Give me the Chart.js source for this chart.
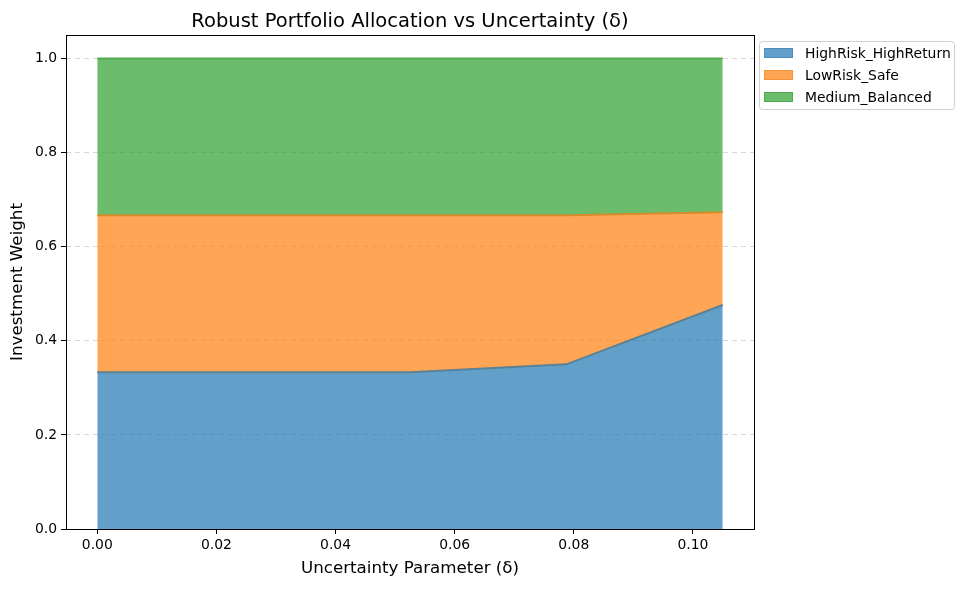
<!DOCTYPE html>
<html>
<head>
<meta charset="utf-8">
<script src="https://cdn.jsdelivr.net/npm/chart.js@4.4.0/dist/chart.umd.min.js"></script>
<style>
  html, body { margin: 0; padding: 0; background: #fff; }
  #wrap { width: 964px; height: 590px; }
</style>
</head>
<body>
<div id="wrap"><canvas id="chart" width="964" height="590"></canvas></div>
<script>
const deltas = [0, 0.02625, 0.0525, 0.07875, 0.105];
const seriesNames = ['HighRisk_HighReturn', 'LowRisk_Safe', 'Medium_Balanced'];
const highRisk = [0.333, 0.333, 0.333, 0.350, 0.476];
const lowRisk = [0.334, 0.334, 0.334, 0.317, 0.197];
const medium = [0.333, 0.333, 0.333, 0.333, 0.327];
const xTicks = [0, 0.02, 0.04, 0.06, 0.08, 0.10];
const yTicks = [0, 0.2, 0.4, 0.6, 0.8, 1.0];

const fills = ['rgba(31,119,180,0.7)', 'rgba(255,127,14,0.7)', 'rgba(44,160,44,0.7)'];
const edges = ['#5a8296', '#d68b2c', '#55aa52'];
const swatchEdges = ['#4a8fbf', '#f5923a', '#4daa4d'];

// running totals so each band sits on the one below it
const weights = [highRisk, lowRisk, medium];
let running = deltas.map(() => 0);
const datasets = weights.map((w, i) => {
    running = running.map((v, j) => v + w[j]);
    return {
        label: seriesNames[i],
        data: deltas.map((x, j) => ({ x, y: running[j] })),
        backgroundColor: fills[i],
        borderColor: edges[i],
        borderWidth: 2,
        pointRadius: 0,
        tension: 0,
        fill: i === 0 ? 'origin' : '-1'
    };
});

const font = 'DejaVu Sans';

const framePlugin = {
    id: 'frame',
    afterDraw(chart) {
        const { ctx, chartArea: a } = chart;
        ctx.save();
        // axes box
        ctx.strokeStyle = '#000';
        ctx.lineWidth = 1;
        ctx.strokeRect(a.left + 0.5, a.top + 0.5, a.right - a.left, a.bottom - a.top);

        // title
        ctx.fillStyle = '#000';
        ctx.font = `19.5px "${font}"`;
        ctx.textAlign = 'center';
        ctx.textBaseline = 'alphabetic';
        ctx.fillText('Robust Portfolio Allocation vs Uncertainty (δ)', (a.left + a.right) / 2, 27);

        // legend box
        const lx = 759, ly = 41, lw = 195, lh = 68;
        ctx.beginPath();
        ctx.roundRect(lx + 0.5, ly + 0.5, lw, lh, 3);
        ctx.fillStyle = 'rgba(255,255,255,0.8)';
        ctx.fill();
        ctx.strokeStyle = '#d0d0d0';
        ctx.stroke();
        ctx.font = `13.9px "${font}"`;
        ctx.textAlign = 'left';
        ctx.textBaseline = 'middle';
        seriesNames.forEach((name, i) => {
            const cy = ly + 12 + i * 22;
            ctx.fillStyle = fills[i];
            ctx.fillRect(764, cy - 5, 29, 10);
            ctx.strokeStyle = swatchEdges[i];
            ctx.strokeRect(764.5, cy - 4.5, 28, 9);
            ctx.fillStyle = '#000';
            ctx.fillText(name, 805, cy + 1);
        });
        ctx.restore();
    }
};

new Chart(document.getElementById('chart'), {
    type: 'line',
    data: { datasets },
    plugins: [framePlugin],
    options: {
        responsive: false,
        animation: false,
        layout: { padding: { left: 8, right: 210, top: 35, bottom: 11 } },
        plugins: {
            legend: { display: false },
            tooltip: { enabled: false }
        },
        scales: {
            x: {
                type: 'linear',
                min: -0.00525,
                max: 0.11025,
                afterBuildTicks(scale) { scale.ticks = xTicks.map(v => ({ value: v })); },
                afterFit(scale) { scale.height = 50; },
                ticks: {
                    color: '#000',
                    font: { family: font, size: 13.9 },
                    padding: 3,
                    maxRotation: 0,
                    callback: v => v.toFixed(2)
                },
                grid: { display: true, drawOnChartArea: false, tickLength: 5, tickColor: '#000' },
                border: { display: false },
                title: {
                    display: true,
                    text: 'Uncertainty Parameter (δ)',
                    color: '#000',
                    font: { family: font, size: 16.7 },
                    padding: { top: 4, bottom: 0 }
                }
            },
            y: {
                type: 'linear',
                min: 0,
                max: 1.05,
                afterBuildTicks(scale) { scale.ticks = yTicks.map(v => ({ value: v })); },
                afterFit(scale) { scale.width = 58; },
                ticks: {
                    color: '#000',
                    font: { family: font, size: 13.9 },
                    padding: 4,
                    callback: v => v.toFixed(1)
                },
                grid: {
                    display: true,
                    color: 'rgba(176,176,176,0.5)',
                    tickLength: 5,
                    tickColor: '#000',
                    tickBorderDash: []
                },
                border: { display: false, dash: [5, 4] },
                title: {
                    display: true,
                    text: 'Investment Weight',
                    color: '#000',
                    font: { family: font, size: 16.7 },
                    padding: { top: 0, bottom: 0 }
                }
            }
        }
    }
});
</script>
</body>
</html>
